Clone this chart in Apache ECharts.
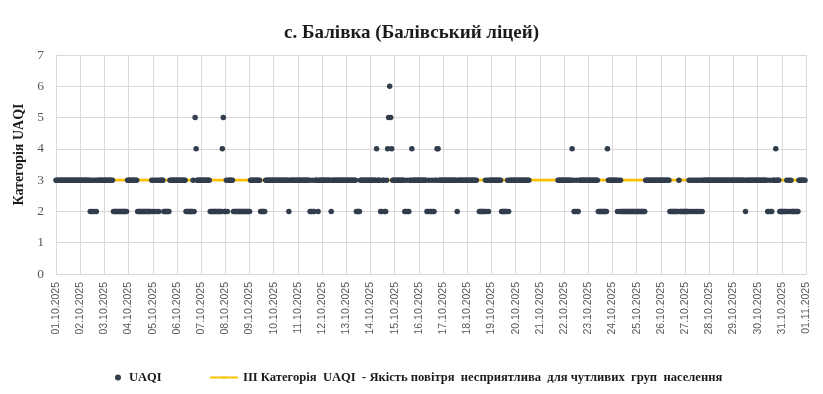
<!DOCTYPE html>
<html>
<head>
<meta charset="utf-8">
<script src="https://cdn.jsdelivr.net/npm/echarts@6/dist/echarts.min.js"></script>
<style>
html,body{margin:0;padding:0;background:#fff;}
#chart{width:823px;height:394px;}
</style>
</head>
<body>
<div id="chart"></div>
<script>
// Tick labels (one per day boundary)
const dayLabels = [
  '01.10.2025','02.10.2025','03.10.2025','04.10.2025','05.10.2025','06.10.2025','07.10.2025','08.10.2025',
  '09.10.2025','10.10.2025','11.10.2025','12.10.2025','13.10.2025','14.10.2025','15.10.2025','16.10.2025',
  '17.10.2025','18.10.2025','19.10.2025','20.10.2025','21.10.2025','22.10.2025','23.10.2025','24.10.2025',
  '25.10.2025','26.10.2025','27.10.2025','28.10.2025','29.10.2025','30.10.2025','31.10.2025','01.11.2025'
];

// Hourly UAQI category, one string per day (24 hours), '-' = no reading
const hourlyUAQI = [
  "333333333333333333333333",
  "3333333333 2323232 3333333",
  "333333333 22222222222222 3",
  "333333333 22222222222222 3",
  "2323232 3333 222222 3333333",
  "333333333 2222222 3 2 5 4 3333",
  "333333333 222222222222 4 5 2",
  "2 3 2 33333 2222222222222222",
  "2 3333333333 22222 33333333",
  "333333333333333 2 33333333",
  "333333333333 22322 333 2 333",
  "333333333 2 33333333333333",
  "3333333333 2222 3333333333",
  "333333 4 333 223322 3 4 5 6 5 4 33",
  "3333333333 223223 3 4 333333",
  "33333333 22322322 33 44 3333",
  "33333333333333 2 333333333",
  "3333333333 -- 222222 32323 3",
  "3333333333 222222 32 333333",
  "33333333333333 ----------",
  "------------------ 333333",
  "33333333 4 3 22322 333333333",
  "3333333333 222222222 4 3333",
  "33333 23232 22222222222222",
  "222222222 333333333333333",
  "333333333 222222222 3 22222",
  "2222 323232323232323 33333",
  "333333333333333333333333",
  "333333333333 2 33333333333",
  "3333333333 223223 33 4 333 2 2",
  "22222 3 2 3 2 3 2222222 3333333"
];

// Threshold: III category
const thresholdLevel = 3;
const thresholdName = 'ІІІ Категорія  UAQI  - Якість повітря  несприятлива  для чутливих  груп  населення';
const seriesName = 'UAQI';

const points = [];
hourlyUAQI.forEach(function (dayStr, d) {
  const s = dayStr.replace(/\s+/g, '');
  for (let i = 0; i < s.length; i++) {
    const c = s[i];
    if (c !== '-') points.push([d * 24 + i, Number(c)]);
  }
});
const xMax = (dayLabels.length - 1) * 24;
const thresholdLine = [[0, thresholdLevel], [xMax, thresholdLevel]];

const serif = '"Liberation Serif", "Times New Roman", serif';
const chart = echarts.init(document.getElementById('chart'), null, {renderer: 'canvas'});
chart.setOption({
  backgroundColor: '#ffffff',
  animation: false,
  title: {
    text: 'с. Балівка (Балівський ліцей)',
    left: 'center',
    top: 19,
    textStyle: {fontFamily: serif, fontWeight: 'bold', fontSize: 19, color: '#1a1a1a'}
  },
  legend: [
    {
      data: [seriesName],
      left: 110, top: 366,
      itemWidth: 12, itemHeight: 6,
      textStyle: {fontFamily: serif, fontWeight: 'bold', fontSize: 12.5, color: '#1a1a1a'}
    },
    {
      data: [thresholdName],
      left: 204, top: 366,
      itemWidth: 28, itemHeight: 3,
      textStyle: {fontFamily: serif, fontWeight: 'bold', fontSize: 12.6, color: '#1a1a1a'}
    }
  ],
  grid: {left: 56, right: 17, top: 55, bottom: 120, containLabel: false},
  xAxis: {
    type: 'value',
    min: 0, max: xMax, interval: 24,
    axisLine: {show: true, lineStyle: {color: '#D9D9D9'}},
    axisTick: {show: false},
    splitLine: {show: true, lineStyle: {color: '#D9D9D9', width: 1}},
    axisLabel: {
      rotate: 90, margin: 8,
      fontFamily: '"Liberation Sans", Arial, sans-serif', fontSize: 10.5, color: '#595959',
      formatter: function (v) { return dayLabels[Math.round(v / 24)]; }
    }
  },
  yAxis: {
    type: 'value',
    min: 0, max: 7, interval: 1,
    name: 'Категорія UAQI',
    nameLocation: 'middle', nameRotate: 90, nameGap: 27,
    nameTextStyle: {fontFamily: serif, fontWeight: 'bold', fontSize: 14, color: '#1a1a1a', padding: [0, 0, 0, 20]},
    axisLine: {show: true, lineStyle: {color: '#D9D9D9'}},
    axisTick: {show: false},
    splitLine: {show: true, lineStyle: {color: '#D9D9D9', width: 1}},
    axisLabel: {fontFamily: serif, fontSize: 13.5, color: '#595959', margin: 12}
  },
  series: [
    {
      name: thresholdName,
      type: 'line',
      data: thresholdLine,
      symbol: 'none',
      lineStyle: {color: '#FFC000', width: 2.75},
      itemStyle: {color: '#FFC000'},
      z: 1
    },
    {
      name: seriesName,
      type: 'scatter',
      data: points,
      symbol: 'circle',
      symbolSize: 5.5,
      itemStyle: {color: '#313C4D', opacity: 1},
      z: 3
    }
  ]
});
</script>
</body>
</html>
